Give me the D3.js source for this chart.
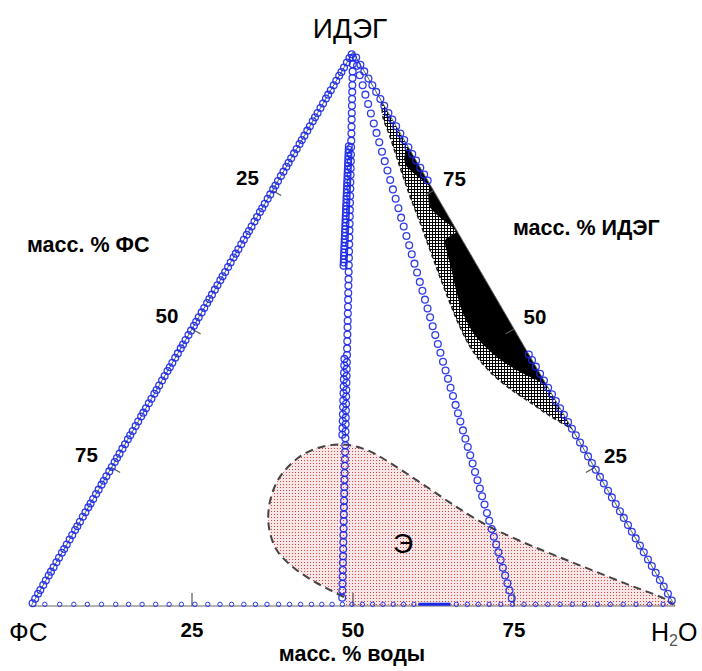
<!DOCTYPE html>
<html>
<head>
<meta charset="utf-8">
<script src="https://cdn.jsdelivr.net/npm/d3@7"></script>
<style>
  html, body { margin: 0; padding: 0; background: #fff; }
  svg { display: block; font-family: "Liberation Sans", Arial, sans-serif; }
</style>
</head>
<body>
<svg id="chart" width="702" height="671"></svg>
<script>
// Ternary diagram ФС – ИДЭГ – вода (mass %). ФС = 100 - вода - ИДЭГ.

const tickValues = [25, 50, 75];
const tickLabels = ["25", "50", "75"];

// Binary ФС–ИДЭГ (left side): ИДЭГ, %
const edgeFsIdeg = [0.5, 1.3, 2.2, 2.9, 3.8, 4.6, 5.5, 6.2, 7.0, 7.9, 8.7, 9.6, 10.3, 11.1, 12.0, 12.8, 13.7, 14.4, 15.2, 16.1, 16.9, 17.8, 18.5, 19.3, 20.2, 21.0, 21.9, 22.6, 23.4, 24.3, 25.1, 26.0, 26.7, 27.5, 28.4, 29.2, 30.1, 30.8, 31.6, 32.5, 33.3, 34.2, 34.9, 35.7, 36.6, 37.4, 38.3, 39.0, 39.8, 40.7, 41.5, 42.4, 43.1, 43.9, 44.8, 45.6, 46.5, 47.2, 48.0, 48.9, 49.7, 50.6, 51.3, 52.1, 53.0, 53.8, 54.7, 55.4, 56.2, 57.1, 57.9, 58.8, 59.5, 60.3, 61.2, 62.0, 62.9, 63.6, 64.4, 65.3, 66.1, 67.0, 67.7, 68.5, 69.4, 70.2, 71.1, 71.8, 72.6, 73.5, 74.3, 75.2, 75.9, 76.7, 77.6, 78.4, 79.3, 80.0, 80.8, 81.7, 82.5, 83.4, 84.1, 84.9, 85.8, 86.6, 87.5, 88.2, 89.0, 89.9, 90.7, 91.6, 92.3, 93.1, 94.0, 94.8, 95.7, 96.4, 97.2, 98.1, 98.9, 99.6];

// Binary ИДЭГ–вода (right side): ИДЭГ, %
const edgeIdegWater = [99.0, 97.7, 96.5, 95.2, 94.0, 92.8, 91.5, 90.3, 89.0, 87.8, 86.6, 85.3, 84.1, 82.8, 81.6, 80.4, 79.1, 77.9, 76.8, 45.4, 44.4, 43.2, 41.9, 40.7, 39.4, 38.2, 37.0, 35.7, 34.5, 33.2, 32.0, 30.8, 29.5, 28.3, 27.0, 25.8, 24.6, 23.3, 22.1, 20.8, 19.6, 18.4, 17.1, 15.9, 14.6, 13.4, 12.2, 10.9, 9.7, 8.4, 7.2, 6.0, 4.7, 3.5, 2.2, 1.0];

// Binary ФС–вода (base): вода, %
const edgeFsWater = [2.0, 4.3, 6.5, 8.6, 10.8, 13.0, 15.0, 17.1, 19.2, 21.3, 23.2, 25.3, 27.3, 29.2, 31.0, 32.9, 34.7, 36.5, 38.3, 40.0, 41.7, 43.4, 45.0, 46.6, 48.2, 49.7, 51.3, 52.9, 54.5, 56.1, 57.7, 59.3, 65.9, 67.6, 69.3, 71.0, 72.8, 74.6, 76.4, 78.2, 80.1, 82.0, 83.9, 85.8, 87.8, 89.8, 91.8, 93.8, 95.9, 98.0];
const edgeFsWaterDense = [60.0, 65.0];

// Section with вода/(вода+ФС) = 48.3 %: ИДЭГ, %
const section48Share = 48.3;
const section48 = [99.0, 97.8, 96.5, 95.3, 94.0, 92.8, 91.5, 90.3, 89.0, 87.8, 86.5, 85.3, 84.0, 82.8, 81.5, 80.3, 79.0, 77.8, 76.5, 75.3, 74.0, 72.8, 71.5, 70.3, 69.0, 67.8, 66.5, 65.3, 64.0, 62.8, 61.5, 60.3, 59.0, 57.8, 56.5, 55.3, 54.0, 52.8, 51.5, 50.3, 49.0, 47.8, 46.5, 45.3, 44.0, 42.8, 41.5, 40.3, 39.0, 37.8, 36.5, 35.3, 34.0, 32.8, 31.5, 30.3, 29.0, 27.8, 26.5, 25.3, 24.0, 22.8, 21.5, 20.3, 19.0, 17.8, 16.5, 15.3, 14.0, 12.8, 11.5, 10.3, 9.0, 7.8, 6.5, 5.3, 4.0, 2.8, 1.5];
// repeat runs along nearly the same section
const section47Share = 47.6;
const section47 = [44.6, 43.4, 42.1, 40.9, 39.6, 38.4, 37.1, 35.9, 34.6, 33.4, 32.1, 30.9];
const section46Share = 46.2;
const section46 = [83.0, 82.4, 81.8, 81.2, 80.6, 80.0, 79.4, 78.8, 78.2, 77.6, 77.0, 76.4, 75.8, 75.2, 74.6, 74.0, 73.4, 72.8, 72.2, 71.6, 71.0, 70.4, 69.8, 69.2, 68.6, 68.0, 67.4, 66.8, 66.2, 65.6, 65.0, 64.4, 63.8, 63.2, 62.6, 62.0, 61.4];

// Section with вода/(вода+ФС) = 75 %: ИДЭГ, %
const section75Share = 75.0;
const section75 = [97.5, 95.8, 94.0, 92.3, 90.6, 88.9, 87.1, 85.4, 83.7, 82.0, 80.3, 78.6, 76.9, 75.2, 73.5, 71.8, 70.1, 68.5, 66.8, 65.1, 63.5, 61.8, 60.2, 58.5, 56.9, 55.3, 53.7, 52.1, 50.5, 48.9, 47.3, 45.7, 44.1, 42.5, 41.0, 39.4, 37.9, 36.3, 34.8, 33.3, 31.7, 30.2, 28.7, 27.2, 25.7, 24.2, 22.7, 21.2, 19.8, 18.3, 16.8, 15.4, 13.9, 12.5, 11.1, 9.7, 8.3, 6.9, 5.5, 4.1, 2.8, 1.4];

// Two-phase region near the ИДЭГ–вода side: [ИДЭГ %, ФС %]
const hatchRegion = [[91.0, 0], [88.3, 1.2], [84.7, 1.9], [79.2, 3.1], [73.8, 4.2], [69.1, 5.0], [64.3, 5.9], [59.4, 6.8], [54.7, 7.6], [50.4, 8.2], [46.2, 8.4], [42.6, 7.7], [39.5, 6.2], [36.6, 4.0], [34.1, 2.1], [32.0, 0]];
// Solid-phase region: [ИДЭГ %, ФС %]
const blackRegion = [[82.9, 0], [82.0, 0.8], [80.9, 1.6], [79.6, 2.0], [78.3, 1.6], [76.9, 0.8], [75.8, 0.3], [74.2, 1.2], [72.2, 2.0], [70.4, 1.6], [68.6, 0.5], [67.5, 0.3], [66.1, 2.6], [63.4, 3.6], [61.2, 4.2], [57.0, 5.5], [52.9, 6.5], [48.6, 6.6], [45.0, 5.2], [42.6, 3.3], [40.8, 1.1], [39.9, 0]];
// Emulsion region Э (boundary): [вода %, ИДЭГ %]
const emulsionRegion = [[47.8, 1.6], [45.4, 2.7], [41.6, 4.5], [37.2, 7.0], [33.1, 10.1], [29.6, 14.6], [27.6, 19.1], [27.0, 23.3], [28.3, 27.0], [31.0, 28.8], [34.5, 29.1], [38.7, 27.9], [44.2, 25.1], [50.7, 21.5], [57.1, 17.9], [62.8, 14.9], [66.8, 13.1], [72.7, 10.7], [79.0, 8.3], [85.4, 5.9], [91.8, 3.5], [96.8, 1.7], [98.8, 0.8], [99.6, 0.2]];
// base corners closing the filled area: [вода %, ИДЭГ %]
const emulsionBase = [[99.6, 0], [49.0, 0]];

// ---------------------------------------------------------------
const svg = d3.select("#chart");

// barycentric -> screen: horizontal position from (вода + ИДЭГ/2), vertical from ИДЭГ
const sx = d3.scaleLinear().domain([0, 100]).range([31, 675]);
const sy = d3.scaleLinear().domain([0, 100]).range([606, 52]);
const pt = (w, i) => [sx(w + i / 2), sy(i)];
const fromIF = ([i, f]) => pt(100 - i - f, i);
const fromShare = (share, i) => pt((100 - i) * share / 100, i);

const defs = svg.append("defs");
const hatch = defs.append("pattern").attr("id", "crosshatch")
  .attr("patternUnits", "userSpaceOnUse").attr("width", 3).attr("height", 3);
hatch.append("rect").attr("width", 3).attr("height", 3).attr("fill", "#fff");
hatch.append("rect").attr("width", 3).attr("height", 1).attr("fill", "#000");
hatch.append("rect").attr("width", 1).attr("height", 3).attr("fill", "#000");

const dots = defs.append("pattern").attr("id", "reddots")
  .attr("patternUnits", "userSpaceOnUse").attr("width", 3).attr("height", 3);
dots.append("rect").attr("width", 3).attr("height", 3).attr("fill", "#f9e6e6");
dots.append("rect").attr("x", 1).attr("y", 1).attr("width", 1).attr("height", 1).attr("fill", "#d04545");

const smooth = d3.line().curve(d3.curveCatmullRom.alpha(0.5));

// emulsion region Э
const emuPts = emulsionRegion.map(([w, i]) => pt(w, i));
const basePts = emulsionBase.map(([w, i]) => pt(w, i));
svg.append("path").attr("d", smooth(emuPts) + "L" + basePts.map(p => p.join(",")).join("L") + "Z")
  .attr("fill", "url(#reddots)");
svg.append("path").attr("d", smooth(emuPts)).attr("fill", "none")
  .attr("stroke", "#444").attr("stroke-width", 2).attr("stroke-dasharray", "8,5");

// two-phase (hatched) and solid (black) regions
const hatchPts = hatchRegion.map(fromIF);
svg.append("path").attr("d", smooth(hatchPts) + "Z").attr("fill", "url(#crosshatch)");
svg.append("path").attr("d", smooth(hatchPts)).attr("fill", "none")
  .attr("stroke", "#222").attr("stroke-width", 1.5).attr("stroke-dasharray", "4,3");
svg.append("path").attr("d", smooth(blackRegion.map(fromIF)) + "Z").attr("fill", "#000");

// triangle sides
const corners = [pt(0, 0), pt(100, 0), pt(0, 100)];
svg.append("path").attr("d", d3.line()(corners) + "Z")
  .attr("fill", "none").attr("stroke", "#666").attr("stroke-width", 1);

// ticks, perpendicular to each side, pointing inward
const tickLen = 10;
const tickG = svg.append("g").attr("stroke", "#555").attr("stroke-width", 1.2);
tickValues.forEach(v => {
  const b = pt(v, 0);                       // base: вода
  tickG.append("line").attr("x1", b[0]).attr("y1", b[1]).attr("x2", b[0]).attr("y2", b[1] - 13);
  const l = pt(0, 100 - v);                 // left: ФС
  tickG.append("line").attr("x1", l[0]).attr("y1", l[1])
    .attr("x2", l[0] + tickLen * 0.866).attr("y2", l[1] + tickLen * 0.5);
  const r = pt(100 - v, v);                 // right: ИДЭГ
  tickG.append("line").attr("x1", r[0]).attr("y1", r[1])
    .attr("x2", r[0] - tickLen * 0.866).attr("y2", r[1] + tickLen * 0.5);
});

// data points
const ring = (g, pts, r, sw) => g.selectAll(null).data(pts).join("circle")
  .attr("cx", d => d[0]).attr("cy", d => d[1]).attr("r", r)
  .attr("fill", "none").attr("stroke", "#1a28e6").attr("stroke-width", sw).attr("stroke-opacity", 0.9);

const dataG = svg.append("g");
dataG.append("path")
  .attr("d", d3.line()(edgeFsWaterDense.map(w => pt(w, 0.3))))
  .attr("fill", "none").attr("stroke", "#1a28e6").attr("stroke-width", 3);

ring(dataG, edgeFsWater.map(w => pt(w, 0.3)), 2.2, 1);
ring(dataG, edgeFsIdeg.map(i => pt(0, i)), 3.4, 1.3);
ring(dataG, edgeIdegWater.map(i => pt(100 - i, i)), 3.4, 1.3);
ring(dataG, section46.map(i => fromShare(section46Share, i)), 3.4, 1.3);
ring(dataG, section48.map(i => fromShare(section48Share, i)), 3.4, 1.3);
ring(dataG, section47.map(i => fromShare(section47Share, i)), 3.4, 1.3);
ring(dataG, section75.map(i => fromShare(section75Share, i)), 3.4, 1.3);

// labels
const txt = svg.append("g").attr("fill", "#000");
txt.append("text").attr("x", 350).attr("y", 38).attr("text-anchor", "middle")
  .attr("font-size", 28).text("ИДЭГ");
txt.append("text").attr("x", 9).attr("y", 641).attr("font-size", 26).text("ФС");
const h2o = txt.append("text").attr("x", 651).attr("y", 641).attr("font-size", 25);
h2o.append("tspan").text("H");
h2o.append("tspan").attr("font-size", 16).attr("dy", 5).attr("fill", "#555").text("2");
h2o.append("tspan").attr("dy", -5).text("O");

const bold = txt.append("g").attr("font-weight", "bold").attr("font-size", 20.5);
tickValues.forEach((v, k) => {
  const b = pt(v, 0);
  bold.append("text").attr("x", b[0]).attr("y", b[1] + 31).attr("text-anchor", "middle").text(tickLabels[k]);
  const l = pt(0, 100 - v);
  bold.append("text").attr("x", l[0] - 25).attr("y", l[1] - 13 + 7).attr("text-anchor", "middle").text(tickLabels[k]);
  const r = pt(100 - v, v);
  bold.append("text").attr("x", r[0] + 21).attr("y", r[1] - 12 + 7).attr("text-anchor", "middle").text(tickLabels[k]);
});
const titles = bold.append("g").attr("font-size", 21.5);
titles.append("text").attr("x", 352).attr("y", 661).attr("text-anchor", "middle").text("масс. % воды");
titles.append("text").attr("x", 27).attr("y", 252).text("масс. % ФС");
titles.append("text").attr("x", 513).attr("y", 235).text("масс. % ИДЭГ");

txt.append("text").attr("x", 403).attr("y", 553).attr("text-anchor", "middle")
  .attr("font-size", 28).text("Э");
</script>
</body>
</html>
